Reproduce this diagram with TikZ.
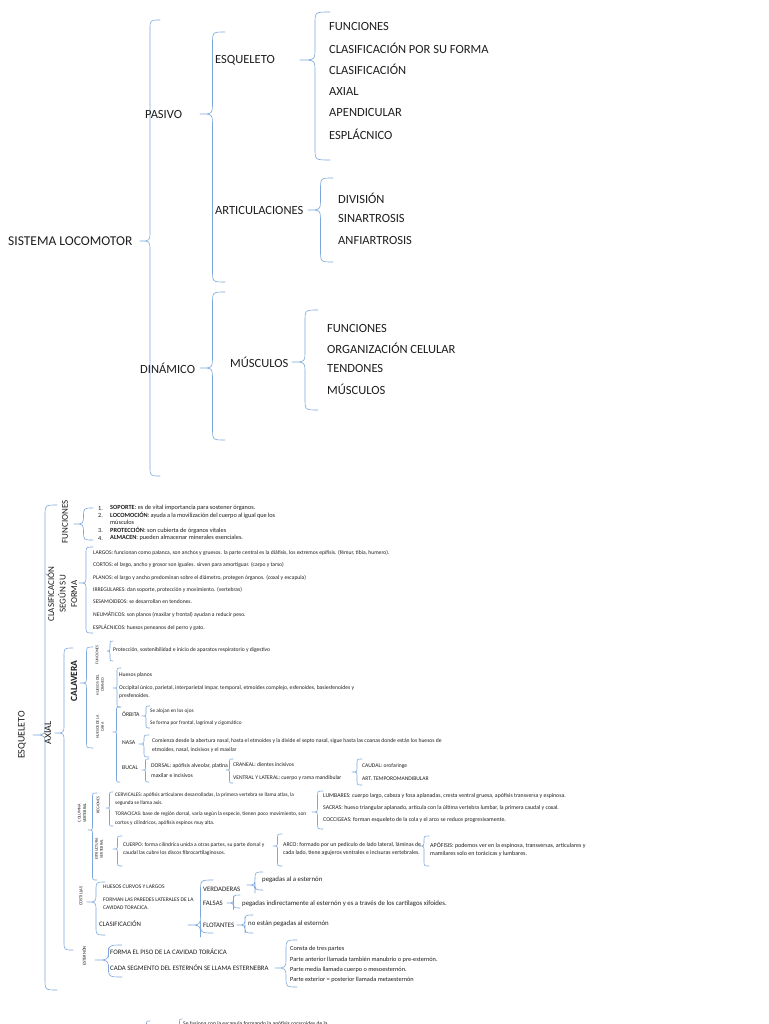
\documentclass[tikz,border=0pt]{standalone}
\usepackage{fontspec}
\setmainfont{Carlito}
\usetikzlibrary{positioning}
\definecolor{llaveazul}{HTML}{7BA7DC}
\definecolor{tinta}{HTML}{1E1E1E}
% llave: punta x, punta y, extremo x, y superior, y inferior
\newcommand{\llave}[5]{%
  \pgfmathsetmacro{\xm}{(#1+#3)/2}%
  \pgfmathsetmacro{\rr}{min((#3-#1)/2,12)}%
  \draw[llave] (#3,#4) .. controls (\xm,#4) .. (\xm,#4+\rr) -- (\xm,#2-\rr)
    .. controls (\xm,#2) .. (#1,#2) .. controls (\xm,#2) .. (\xm,#2+\rr)
    -- (\xm,#5-\rr) .. controls (\xm,#5) .. (#3,#5);}

\begin{document}
\begin{tikzpicture}[line cap=round,line join=round,text=tinta,
  llave/.style={draw=llaveazul,line width=.6pt},
  titulo/.style={anchor=west,inner sep=0pt,font=\fontsize{12.5}{14}\selectfont},
  medio/.style={anchor=west,inner sep=0pt,font=\fontsize{6.8}{8.5}\selectfont},
  nota/.style={anchor=west,inner sep=0pt,align=left,font=\fontsize{5.6}{8.2}\selectfont},
  notab/.style={nota,font=\fontsize{6.3}{9}\selectfont},
  notac/.style={nota,font=\fontsize{5.3}{8.2}\selectfont},
  vert/.style={rotate=90,inner sep=0pt,align=center},
  mini/.style={vert,font=\fontsize{4}{5}\selectfont}]
\begin{scope}[x=1pt,y=-1pt]
  \path[use as bounding box] (0,0) rectangle (768,1024);
  \clip (0,0) rectangle (768,1024);
  \fill[white] (0,0) rectangle (768,1024);
  % parte superior: sistema locomotor
  \node[titulo,font=\fontsize{13.5}{15}\selectfont] (sistema) at (8,241) {SISTEMA LOCOMOTOR};
  \llave{140}{241}{160}{20}{476}
  \node[titulo] (pasivo) at (145,114) {PASIVO};
  \llave{200}{114}{225}{32}{282}
  \node[titulo] (esqueleto) at (215,60) {ESQUELETO};
  \llave{300}{60}{330}{12}{160}
  \node[titulo] (esqfun) at (329,26) {FUNCIONES};
  \node[titulo] (esqclf) at (329,48) {CLASIFICACIÓN POR SU FORMA};
  \node[titulo] (esqcla) at (329,69) {CLASIFICACIÓN};
  \node[titulo] (esqaxi) at (329,91) {AXIAL};
  \node[titulo] (esqape) at (329,112) {APENDICULAR};
  \node[titulo] (esqesp) at (329,134) {ESPLÁCNICO};
  \node[titulo] (artic) at (215,210) {ARTICULACIONES};
  \llave{308}{210}{333}{178}{262}
  \node[titulo] (artdiv) at (338,198) {DIVISIÓN};
  \node[titulo] (artsin) at (338,218) {SINARTROSIS};
  \node[titulo] (artanf) at (338,240) {ANFIARTROSIS};
  \node[titulo] (dinamico) at (140,368) {DINÁMICO};
  \llave{200}{368}{225}{292}{440}
  \node[titulo] (musculos) at (230,362) {MÚSCULOS};
  \llave{292}{362}{318}{310}{410}
  \node[titulo] (musfun) at (327,328) {FUNCIONES};
  \node[titulo] (musorg) at (327,348) {ORGANIZACIÓN CELULAR};
  \node[titulo] (musten) at (327,368) {TENDONES};
  \node[titulo] (musmus) at (327,389) {MÚSCULOS};
  % parte inferior: esqueleto
  \node[vert,font=\fontsize{10}{12}\selectfont] (esqb) at (22,735) {ESQUELETO};
  \llave{33}{735}{57}{505}{990}
  \node[vert,font=\fontsize{9}{11}\selectfont] (funb) at (65,522) {FUNCIONES};
  \llave{74}{524}{93}{508}{540}
  \node[notab] (f1n) at (98,508) {1.};
  \node[notab] (f1) at (110,508) {\textbf{SOPORTE}: es de vital importancia para sostener órganos.};
  \node[notab] (f2n) at (98,515.5) {2.};
  \node[notab,font=\fontsize{6.3}{6.5}\selectfont,text width=165pt,align=justify] (f2) at (110,518.5) {\textbf{LOCOMOCIÓN}: ayuda a la movilización del cuerpo al igual que los\linebreak músculos};
  \node[notab] (f3n) at (98,530) {3.};
  \node[notab] (f3) at (110,530) {\textbf{PROTECCIÓN}: son cubierta de órganos vitales};
  \node[notab] (f4n) at (98,538) {4.};
  \node[notab] (f4) at (110,538) {\textbf{ALMACEN}: pueden almacenar minerales esenciales.};
  % clasificación según su forma
  \node[vert,font=\fontsize{9}{11.5}\selectfont] (clasb) at (62,594) {CLASIFICACIÓN\\SEGÚN SU\\FORMA};
  \llave{79}{583}{93}{547}{633}
  \node[nota] (largos) at (93,553) {LARGOS:  funcionan como palanca, son anchos y gruesos. la parte central es la diáfisis, los extremos epífisis. (fémur, tibia, humero).};
  \node[nota] (cortos) at (93,565) {CORTOS: el largo, ancho y grosor son iguales. sirven para amortiguar. (carpo y tarso)};
  \node[nota] (planos) at (93,578) {PLANOS:  el largo y ancho predominan sobre el diámetro, protegen órganos. (coxal y escapula)};
  \node[nota] (irreg) at (93,590) {IRREGULARES:  dan soporte, protección y movimiento. (vertebras)};
  \node[nota] (sesam) at (93,602) {SESAMOIDEOS: se desarrollan en tendones.};
  \node[nota] (neum) at (93,615) {NEUMÁTICOS: son planos (maxilar y frontal) ayudan a reducir peso.};
  \node[nota] (espl) at (93,628) {ESPLÁCNICOS:  huesos peneanos del perro y gato.};
  % axial
  \node[vert,font=\fontsize{10}{12}\selectfont] (axial) at (48,733) {AXIAL};
  \llave{55}{733}{73}{648}{950}
  % calavera
  \node[vert,font=\bfseries\fontsize{9.5}{11}\selectfont] (calavera) at (74,681) {CALAVERA};
  \llave{80}{683}{93}{647}{748}
  \node[mini] (calfun) at (97,655) {FUNCIONES};
  \node[mini] (calcra) at (100,685) {HUESOS DEL\\CRANEO};
  \node[mini] (calcar) at (100,727) {HUESOS DE LA\\CARA};
  \llave{107}{651}{113}{641}{661}
  \node[nota] (protec) at (113,650) {Protección, sostenibilidad e inicio de aparatos respiratorio y digestivo};
  \llave{113}{688}{121}{668}{707}
  \node[nota] (planosc) at (119,675) {Huesos planos};
  \node[nota] (occip) at (119,692) {Occipital único, parietal, interparietal impar, temporal, etmoides complejo, esfenoides, basiesfenoides y\\presfenoides.};
  \llave{113}{732}{120}{707}{782}
  \node[medio,font=\fontsize{5.8}{7}\selectfont] (orbita) at (122,714) {ÓRBITA};
  \node[medio,font=\fontsize{5.8}{7}\selectfont] (nasa) at (122,743) {NASA};
  \node[medio,font=\fontsize{5.8}{7}\selectfont] (bucal) at (122,768) {BUCAL};
  \llave{142}{716}{150}{706}{728}
  \node[notac] (orb1) at (150,711) {Se alojan en los ojos};
  \node[notac] (orb2) at (150,723) {Se forma por frontal, lagrimal y cigomático};
  \llave{139}{744}{149}{735}{757}
  \node[nota] (nasa1) at (152,745.5) {Comienza desde la abertura nasal, hasta el etmoides y la divide el septo nasal, sigue hasta las coanas donde están los huesos de\\etmoides, nasal, incisivos y el maxilar};
  \llave{142}{770}{149}{759}{782}
  \node[nota,font=\fontsize{5.7}{10}\selectfont] (dorsal) at (151,770.5) {DORSAL: apófisis alveolar, platina\\maxilar e incisivos};
  \llave{226}{770}{233}{759}{783}
  \node[nota] (craneal) at (233,765) {CRANEAL:  dientes incisivos};
  \node[nota] (ventral) at (233,778) {VENTRAL Y LATERAL: cuerpo y rama mandibular};
  \llave{352}{772}{362}{759}{785}
  \node[nota] (caudal) at (362,766) {CAUDAL: orofaringe};
  \node[nota] (art) at (362,779) {ART. TEMPOROMANDIBULAR};
  % columna vertebral
  \node[mini,font=\fontsize{4.2}{5.5}\selectfont] (columna) at (82,813) {COLUMNA\\VERTEBRAL};
  \llave{88}{830}{97}{793}{880}
  \node[mini] (regiones) at (98,805) {REGIONES};
  \node[mini] (estruc) at (99,849) {ESTRUCTURA\\VERTEBRAL};
  \llave{106}{808}{113}{792}{826}
  \node[notac] (cerv) at (115,799.5) {CERVICALES: apófisis articulares desarrolladas, la primera vertebra se llama atlas, la\\segunda se llama axis.};
  \node[notac,font=\fontsize{5.4}{9}\selectfont] (torac) at (115,819) {TORACICAS: base de región dorsal, varía según la especie, tienen poco movimiento, son\\cortos y cilíndricos, apófisis espinos muy alta.};
  \llave{312}{812}{323}{791}{829}
  \node[nota,font=\fontsize{5.8}{7}\selectfont] (lumb) at (323,795.5) {LUMBARES: cuerpo largo, cabeza y fosa aplanadas, cresta ventral gruesa, apófisis transversa y espinosa.};
  \node[nota,font=\fontsize{5.8}{7}\selectfont] (sacr) at (323,807.5) {SACRAS: hueso triangular aplanado, articula con la última vertebra lumbar, la primera caudal y coxal.};
  \node[nota,font=\fontsize{5.8}{7}\selectfont] (cocc) at (323,819.5) {COCCIGEAS: forman esqueleto de la cola y el arco se reduce progresivamente.};
  \llave{113}{849}{122}{836}{866}
  \node[nota,font=\fontsize{5.5}{8}\selectfont] (cuerpo) at (123,849) {CUERPO: forma cilíndrica unida a otras partes, su parte dorsal y\\caudal las cubre los discos fibrocartilaginosos.};
  \llave{273}{846}{282}{834}{866}
  \node[nota,font=\fontsize{5.8}{8}\selectfont] (arco) at (283,849) {ARCO:  formado por un pedículo de lado lateral, láminas de\\cada lado, tiene agujeros ventrales e incisuras vertebrales.};
  \llave{419}{846}{429}{836}{866}
  \node[nota,font=\fontsize{6}{8}\selectfont] (apof) at (430,849) {APÓFISIS: podemos ver en la espinosa, transversas, articulares y\\mamilares solo en torácicas y lumbares.};
  % costillas
  \node[mini,font=\fontsize{4.5}{5.5}\selectfont] (costillas) at (81,896) {COSTILLAS};
  \llave{87}{902}{105}{882}{935}
  \node[nota,font=\fontsize{5.5}{8}\selectfont] (curvos) at (103,887) {HUESOS CURVOS Y LARGOS};
  \node[nota,font=\fontsize{5.5}{8}\selectfont] (paredes) at (103,904) {FORMAN LAS PAREDES LATERALES DE LA\\CAVIDAD TORACICA.};
  \node[medio] (clascos) at (99,924) {CLASIFICACIÓN};
  \llave{188}{925}{213}{880}{933}
  \node[medio] (verd) at (203,889) {VERDADERAS};
  \node[medio] (fals) at (203,903) {FALSAS};
  \node[medio] (flot) at (203,925) {FLOTANTES};
  \llave{247}{885}{263}{872}{890}
  \node[medio] (verd1) at (262,880) {pegadas al a esternón};
  \llave{227}{903}{240}{895}{908}
  \node[medio] (fals1) at (242,904) {pegadas indirectamente al esternón y es a través de los cartílagos xifoides.};
  \llave{237}{925}{253}{915}{933}
  \node[medio] (flot1) at (248,924) {no están pegadas al esternón};
  % esternón
  \node[mini,font=\fontsize{4.5}{5.5}\selectfont] (esternon) at (84,956) {ESTERNÓN};
  \llave{95}{960}{122}{945}{977}
  \node[medio] (piso) at (110,952) {FORMA EL PISO DE LA CAVIDAD TORÁCICA};
  \node[medio] (segm) at (110,968) {CADA SEGMENTO DEL ESTERNÓN SE LLAMA ESTERNEBRA};
  \llave{275}{968}{297}{940}{987}
  \node[notab] (ester1) at (290,949) {Consta de tres partes};
  \node[notab] (ester2) at (290,960) {Parte anterior llamada también manubrio o pre-esternón.};
  \node[notab] (ester3) at (290,970) {Parte media llamada cuerpo o mesoesternón.};
  \node[notab] (ester4) at (290,980) {Parte exterior = posterior llamada metaesternón};
  % borde inferior cortado
  \llave{143}{1032}{150}{1021}{1043}
  \node[nota] (coracoides) at (145,1027) {Coracoides};
  \llave{177}{1031}{182}{1019}{1043}
  \node[nota] (fusiona) at (183,1024) {Se fusiona con la escapula formando la apófisis coracoides de la};
\end{scope}
\end{tikzpicture}
\end{document}
